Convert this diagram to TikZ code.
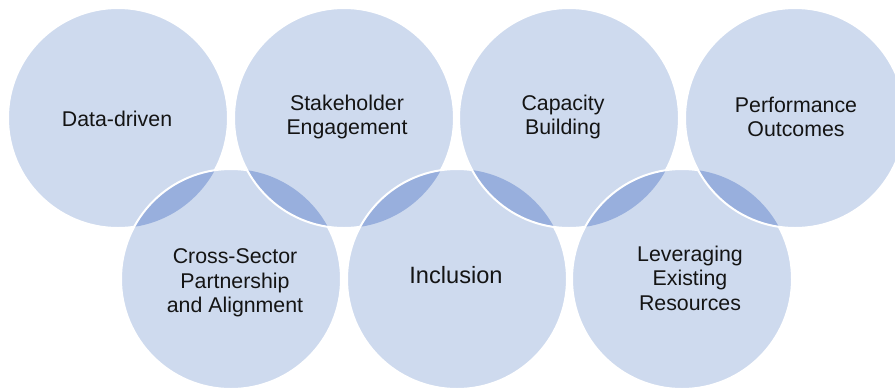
\documentclass[tikz,border=0pt]{standalone}
\usepackage{fontspec}
\setmainfont{Liberation Sans}
\definecolor{cLight}{RGB}{206,218,238}
\definecolor{cDark}{RGB}{152,175,221}
\definecolor{cText}{RGB}{20,20,20}
\tikzset{
  lbl/.style={align=center, text=cText, font=\fontsize{16}{18.4}\selectfont, inner sep=0pt},
  bigl/.style={lbl, font=\fontsize{17.7}{20}\selectfont},
  disc/.style={fill=cLight},
  rim/.style={draw=white, line width=1.5pt},
  lens/.style={fill=cDark}
}
\newcommand{\Rad}{82.5pt}
\begin{document}
\begin{tikzpicture}[x=0.75pt,y=-0.75pt]
\useasboundingbox (0,0) rectangle (895,390);
\clip (0,0) rectangle (895,390);
\coordinate (p1) at (118,118);
\coordinate (p2) at (344,118);
\coordinate (p3) at (569,118);
\coordinate (p4) at (795,118);
\coordinate (p5) at (231,279);
\coordinate (p6) at (457,279);
\coordinate (p7) at (682,279);
% circle 1
\path[disc] (p1) circle[radius=\Rad];
\path[rim] (p1) circle[radius=\Rad];
% circle 5
\path[disc] (p5) circle[radius=\Rad];
\begin{scope}\clip (p5) circle[radius=\Rad]; \path[lens] (p1) circle[radius=\Rad];\end{scope}
\path[rim] (p5) circle[radius=\Rad];
% circle 2
\path[disc] (p2) circle[radius=\Rad];
\begin{scope}\clip (p2) circle[radius=\Rad]; \path[lens] (p5) circle[radius=\Rad];\end{scope}
\path[rim] (p2) circle[radius=\Rad];
% circle 6
\path[disc] (p6) circle[radius=\Rad];
\begin{scope}\clip (p6) circle[radius=\Rad]; \path[lens] (p2) circle[radius=\Rad];\end{scope}
\path[rim] (p6) circle[radius=\Rad];
% circle 3
\path[disc] (p3) circle[radius=\Rad];
\begin{scope}\clip (p3) circle[radius=\Rad]; \path[lens] (p6) circle[radius=\Rad];\end{scope}
\path[rim] (p3) circle[radius=\Rad];
% circle 7
\path[disc] (p7) circle[radius=\Rad];
\begin{scope}\clip (p7) circle[radius=\Rad]; \path[lens] (p3) circle[radius=\Rad];\end{scope}
\path[rim] (p7) circle[radius=\Rad];
% circle 4
\path[disc] (p4) circle[radius=\Rad];
\begin{scope}\clip (p4) circle[radius=\Rad]; \path[lens] (p7) circle[radius=\Rad];\end{scope}
\path[rim] (p4) circle[radius=\Rad];
% labels
\node[lbl] (t1) at (117,119) {Data-driven};
\node[lbl] (t2) at (347,117) {Stakeholder\\Engagement};
\node[lbl] (t3) at (563,117) {Capacity\\Building};
\node[lbl] (t4) at (796,117) {Performance\\Outcomes};
\node[lbl] (t5) at (235,283) {Cross-Sector\\Partnership\\and Alignment};
\node[bigl] (t6) at (456,275) {Inclusion};
\node[lbl] (t7) at (690,278) {Leveraging\\Existing\\Resources};
\end{tikzpicture}
\end{document}
